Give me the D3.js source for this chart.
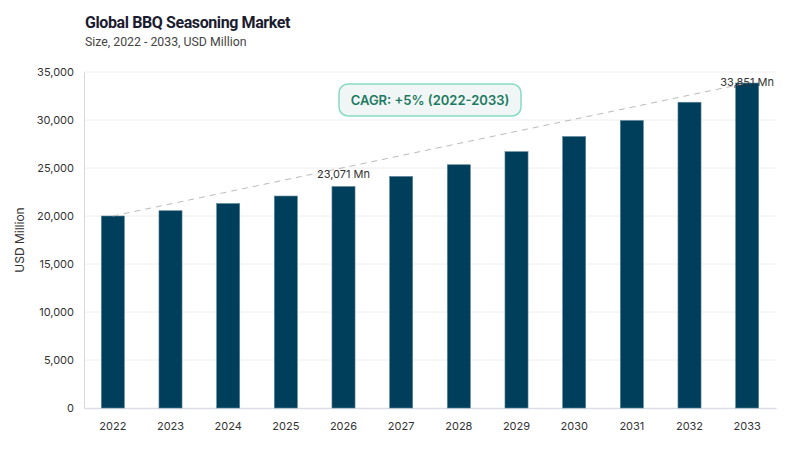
<!DOCTYPE html>
<html>
<head>
<meta charset="utf-8">
<script src="https://cdn.jsdelivr.net/npm/d3@7"></script>
<style>
  body { margin: 0; background: #fff; font-family: Inter, "DejaVu Sans", sans-serif; }
  svg text { font-family: Inter, "DejaVu Sans", sans-serif; }
</style>
</head>
<body>
<svg id="chart" width="800" height="450"></svg>
<script>
// DATA
var years = ['2022','2023','2024','2025','2026','2027','2028','2029','2030','2031','2032','2033'];
var values = [20000, 20550, 21300, 22080, 23071, 24120, 25340, 26700, 28280, 29950, 31850, 33851];
var yTicks = [0, 5000, 10000, 15000, 20000, 25000, 30000, 35000];
var labelYears = ['2026', '2033'];
var cagrText = 'CAGR: +5% (2022-2033)';

var svg = d3.select('#chart');
var fmt = d3.format(',');

// SCALES
var xScale = d3.scaleBand().domain(years).range([84, 776]).paddingInner(0.6).paddingOuter(0.3);
var yScale = d3.scaleLinear().domain([0, 35000]).range([408, 72]);

// TITLE
svg.append('text')
  .attr('x', 85).attr('y', 28)
  .attr('font-size', '16px').attr('font-weight', 700)
  .style('font-family', 'Roboto, sans-serif')
  .attr('letter-spacing', '-0.4')
  .attr('fill', '#1c1c30')
  .text('Global BBQ Seasoning Market');
svg.append('text')
  .attr('x', 85).attr('y', 46)
  .attr('font-size', '12.3px')
  .style('font-family', 'Roboto, sans-serif')
  .attr('fill', '#444')
  .text('Size, 2022 - 2033, USD Million');

// GRID
svg.append('g').selectAll('line')
  .data(yTicks.filter(d => d > 0))
  .enter().append('line')
  .attr('x1', 84).attr('x2', 776)
  .attr('y1', d => yScale(d)).attr('y2', d => yScale(d))
  .attr('stroke', '#eeeeee').attr('stroke-width', 1);

// Y AXIS
var yAxis = d3.axisLeft(yScale).tickValues(yTicks).tickFormat(fmt).tickSize(0).tickPadding(10);
var yG = svg.append('g').attr('transform', 'translate(84,0)').call(yAxis);
yG.select('.domain').attr('stroke', '#d5d8e0');
yG.selectAll('text').attr('font-size', '11px').attr('fill', '#333');

// X AXIS
var xAxis = d3.axisBottom(xScale).tickSize(0).tickPadding(14);
var xG = svg.append('g').attr('transform', 'translate(0,408)').call(xAxis);
xG.select('.domain').attr('stroke', '#dcdde5').attr('stroke-width', 1.5);
xG.selectAll('text').attr('font-size', '11px').attr('fill', '#333');

// Y LABEL
svg.append('text')
  .attr('transform', 'translate(24,240) rotate(-90)')
  .attr('text-anchor', 'middle')
  .attr('font-size', '12px')
  .attr('fill', '#333')
  .text('USD Million');

// BARS
svg.append('g').selectAll('rect')
  .data(years)
  .enter().append('rect')
  .attr('x', d => xScale(d))
  .attr('y', (d, i) => yScale(values[i]))
  .attr('width', xScale.bandwidth())
  .attr('height', (d, i) => yScale(0) - yScale(values[i]))
  .attr('fill', '#003f5c')
  .attr('stroke', '#5d8599').attr('stroke-width', 0.6);

// TREND LINE
var first = 0, last = years.length - 1;
svg.append('line')
  .attr('x1', xScale(years[first]) + xScale.bandwidth() / 2)
  .attr('y1', yScale(values[first]))
  .attr('x2', xScale(years[last]) + xScale.bandwidth() / 2)
  .attr('y2', yScale(values[last]))
  .attr('stroke', '#bbb').attr('stroke-width', 1)
  .attr('stroke-dasharray', '6,5');

// VALUE LABELS (clamped so the top one stays near the chart top)
labelYears.forEach(function(y) {
  var i = years.indexOf(y);
  svg.append('text')
    .attr('x', xScale(y) + xScale.bandwidth() / 2)
    .attr('y', Math.max(yScale(values[i]) - 9, 86))
    .attr('text-anchor', 'middle')
    .attr('font-size', '11px')
    .attr('fill', '#333')
    .text(fmt(values[i]) + ' Mn');
});

// CAGR BOX
svg.append('rect')
  .attr('x', 339).attr('y', 84)
  .attr('width', 182).attr('height', 32)
  .attr('rx', 9)
  .attr('fill', '#f0f6f5')
  .attr('stroke', '#86dcc2').attr('stroke-width', 1.5);
svg.append('text')
  .attr('x', 430).attr('y', 105)
  .attr('text-anchor', 'middle')
  .attr('font-size', '13px').attr('font-weight', 600)
  .attr('fill', '#1d7a62')
  .text(cagrText);
</script>
</body>
</html>
